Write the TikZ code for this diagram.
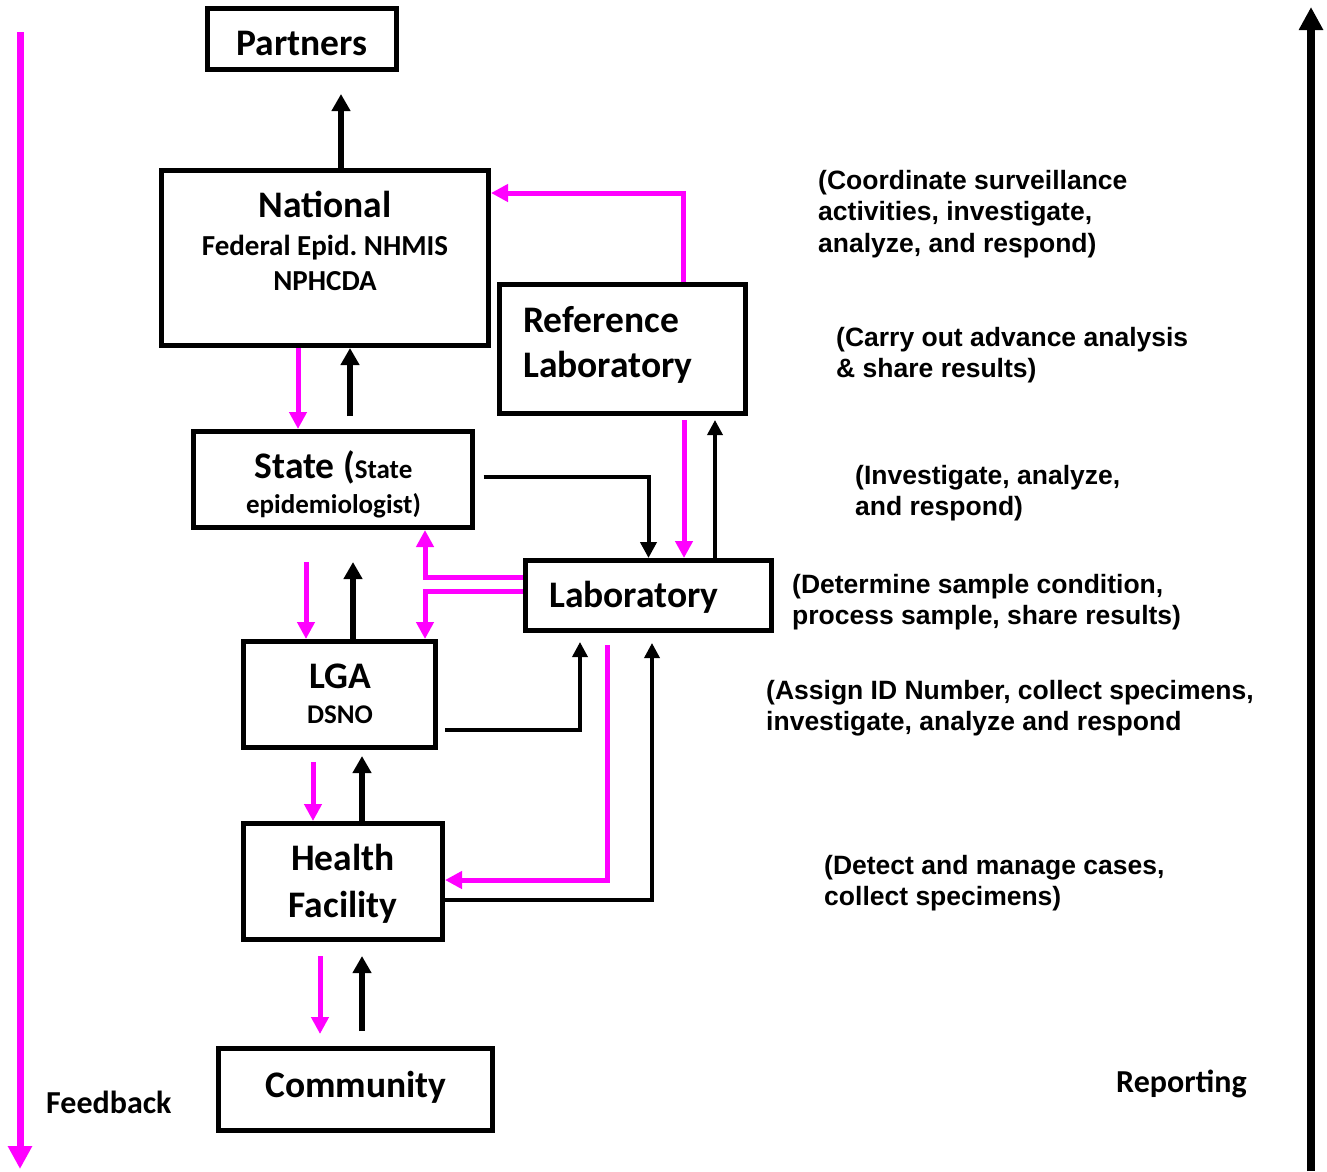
\documentclass[tikz,border=0pt]{standalone}
\usepackage{fontspec}
\setmainfont{Carlito}
\newfontfamily\notefont{Liberation Sans}
\usetikzlibrary{arrows.meta}
\definecolor{fb}{RGB}{255,0,255}
\frenchspacing

\begin{document}
\begin{tikzpicture}[x=1pt,y=-1pt,
  box/.style={draw,line width=5pt,inner sep=0pt,fill=white},
  lbl/.style={inner sep=0pt,anchor=base,font=\bfseries\fontsize{37.5}{41}\selectfont},
  lblw/.style={lbl,anchor=base west},
  small/.style={font=\bfseries\fontsize{27}{31}\selectfont},
  sub/.style={inner sep=0pt,anchor=base,font=\bfseries\fontsize{29}{33}\selectfont},
  note/.style={inner sep=0pt,anchor=base west,align=left,font=\notefont\bfseries\fontsize{26.5}{31.5}\selectfont},
  fbk/.style={draw=fb,line width=5pt,-{Triangle[length=17pt,width=17pt]}},
  rep/.style={draw=black,line width=5.5pt,-{Triangle[length=17pt,width=18pt]}},
  mid/.style={draw=black,line width=4pt,-{Triangle[length=16pt,width=16pt]}},
  thinblk/.style={draw=black,line width=3.5pt,-{Triangle[length=15pt,width=15pt]}}]

\fill[white] (0,0) rectangle (1327,1171);
\useasboundingbox (0,0) rectangle (1327,1171);

% boxes
\node[box,minimum width=189pt,minimum height=61pt] (partners) at (302,39) {};
\node[box,minimum width=327pt,minimum height=175pt] (national) at (325,258) {};
\node[box,minimum width=246pt,minimum height=129pt] (reflab) at (622.5,349) {};
\node[box,minimum width=279pt,minimum height=96pt] (state) at (333,479.5) {};
\node[box,minimum width=246pt,minimum height=70pt] (lab) at (648.5,595.5) {};
\node[box,minimum width=192pt,minimum height=106pt] (lga) at (339.5,694.5) {};
\node[box,minimum width=199pt,minimum height=116pt] (hf) at (343,881.5) {};
\node[box,minimum width=274pt,minimum height=82pt] (community) at (355,1089.5) {};

% box texts
\node[lbl] (partners-t) at (302,55) {Partners};
\node[lbl] (national-t) at (325,217) {National};
\node[sub] (national-s1) at (325,255) {Federal Epid. NHMIS};
\node[sub] (national-s2) at (325,290) {NPHCDA};
\node[lblw] (reflab-t1) at (523,332) {Reference};
\node[lblw] (reflab-t2) at (523,377) {Laboratory};
\node[lbl] (state-t1) at (333.5,478) {State (\fontsize{27}{31}\selectfont State};
\node[lbl,small] (state-t2) at (333.5,513) {epidemiologist)};
\node[lblw] (lab-t) at (549,607) {Laboratory};
\node[lbl] (lga-t1) at (340,688) {LGA};
\node[lbl,small] (lga-t2) at (340,723) {DSNO};
\node[lbl] (hf-t1) at (343,870) {Health};
\node[lbl] (hf-t2) at (343,917) {Facility};
\node[lbl] (community-t) at (356,1097) {Community};

% side labels
\node[lblw,font=\bfseries\fontsize{32}{35}\selectfont] (feedback) at (46,1113) {Feedback};
\node[lblw,font=\bfseries\fontsize{32}{35}\selectfont] (reporting) at (1116,1092) {Reporting};

% notes (anchored at the baseline of their last line)
\node[note] (n1) at (818,252) {(Coordinate surveillance\\activities, investigate,\\analyze, and respond)};
\node[note] (n2) at (836,377.5) {(Carry out advance analysis\\\& share results)};
\node[note] (n3) at (855,515.5) {(Investigate, analyze,\\and respond)};
\node[note] (n4) at (792,624.5) {(Determine sample condition,\\process sample, share results)};
\node[note] (n5) at (766,730.5) {(Assign ID Number, collect specimens,\\investigate, analyze and respond};
\node[note] (n6) at (824,905.5) {(Detect and manage cases,\\collect specimens)};

% connectors
\draw[rep,shorten >=22pt] (national.north -| 341,0) -- (partners.south -| 341,0);
\draw[fbk] (reflab.north -| 683,0) |- (national.east |- 0,193);
\draw[fbk] (national.south -| 298,0) -- (state.north -| 298,0);
\draw[rep,shorten <=13pt] (state.north -| 350,0) -- (national.south -| 350,0);
\draw[mid,shorten <=8.5pt] (state.east |- 0,477) -| (lab.north);
\draw[fbk,shorten <=4pt] (reflab.south -| 684,0) -- (lab.north -| 684,0);
\draw[thinblk,shorten >=4pt] (lab.north -| 715,0) -- (reflab.south -| 715,0);
\draw[fbk] (lab.west |- 0,577) -| (state.south -| 425,0);
\draw[fbk] (lab.west |- 0,591) -| (lga.north -| 425,0);
\draw[fbk,shorten <=32pt] (state.south -| 306,0) -- (lga.north -| 306,0);
\draw[rep,shorten >=32pt] (lga.north -| 353,0) -- (state.south -| 353,0);
\draw[thinblk,shorten <=7pt,shorten >=9pt] (lga.east |- 0,730) -| (lab.south -| 580,0);
\draw[fbk,shorten <=12pt] (lab.south -| 607,0) |- (hf.east |- 0,880);
\draw[thinblk,shorten >=10pt] (hf.east |- 0,900) -| (lab.south -| 652,0);
\draw[fbk,shorten <=12pt] (lga.south -| 313,0) -- (hf.north -| 313,0);
\draw[rep,shorten >=6pt] (hf.north -| 362,0) -- (lga.south -| 362,0);
\draw[fbk,shorten <=14pt,shorten >=12pt] (hf.south -| 320,0) -- (community.north -| 320,0);
\draw[rep,shorten <=15pt,shorten >=14pt] (community.north -| 362,0) -- (hf.south -| 362,0);

% feedback and reporting directions
\coordinate (fbtop) at (20,32);
\coordinate (fbbot) at (20,1169);
\draw[draw=fb,line width=7pt,-{Triangle[length=23pt,width=23pt]}] (fbtop) -- (fbbot);
\coordinate (rpbot) at (1311,1171);
\coordinate (rptop) at (1311,7);
\draw[draw=black,line width=8pt,-{Triangle[length=23pt,width=23pt]}] (rpbot) -- (rptop);
\end{tikzpicture}
\end{document}
